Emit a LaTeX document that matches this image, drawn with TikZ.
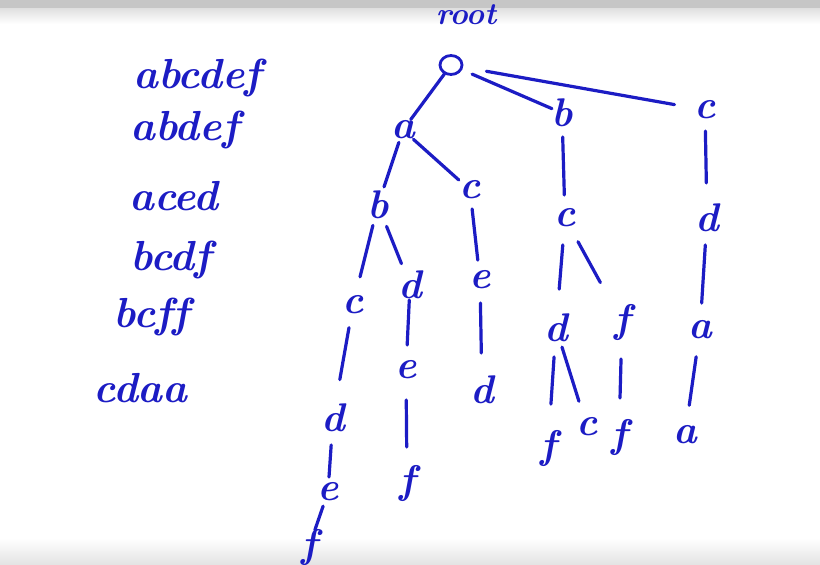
\documentclass[tikz,border=0pt]{standalone}
\usepackage{fontspec}
\usetikzlibrary{shapes.geometric}
\definecolor{ink}{RGB}{28,28,196}
\begin{document}
\begin{tikzpicture}[x=1pt,y=-1pt,
  letter/.style={text=ink, font=\fontsize{40}{42}\selectfont\bfseries\itshape, inner sep=0pt, anchor=center},
  word/.style={text=ink, font=\fontsize{42}{44}\selectfont\bfseries\itshape, inner sep=0pt, anchor=base west},
  edge/.style={draw=ink, line width=3.2pt, line cap=round},
]
\useasboundingbox (0,0) rectangle (820,565);
\fill[white] (0,0) rectangle (820,565);
\fill[gray!45] (0,0) rectangle (820,8);
\shade[top color=gray!25, bottom color=white] (0,8) rectangle (820,24);
\shade[top color=white, bottom color=gray!22] (0,538) rectangle (820,565);

% word list
\node[word] (w1) at (133,88) {abcdef};
\node[word] (w2) at (130,140) {abdef};
\node[word] (w3) at (129,210) {aced};
\node[word] (w4) at (130,270) {bcdf};
\node[word] (w5) at (113,327) {bcf\kern0.5pt f};
\node[word] (w6) at (93,402) {cdaa};

% trie
\node[letter, font=\fontsize{31}{33}\selectfont\bfseries\itshape] (rootlabel) at (466,15) {root};
\node[draw=ink, line width=2.8pt, ellipse, minimum width=22pt, minimum height=19pt, inner sep=0pt] (root) at (451,65) {};
\node[letter] (a) at (403,130) {a};
\node[letter] (b) at (562,113) {b};
\node[letter] (c) at (705,110) {c};
\node[letter] (ab) at (378,205) {b};
\node[letter] (ac) at (470,190) {c};
\node[letter] (bc) at (565,218) {c};
\node[letter] (cd) at (707,218) {d};
\node[letter] (abc) at (353,305) {c};
\node[letter] (abd) at (410,285) {d};
\node[letter] (ace) at (480,280) {e};
\node[letter] (bcd) at (556,328) {d};
\node[letter] (bcf) at (622,322) {f};
\node[letter] (cda) at (700,330) {a};
\node[letter] (abcd) at (333,418) {d};
\node[letter] (abde) at (406,370) {e};
\node[letter] (aced) at (482,390) {d};
\node[letter] (bcdf) at (548,448) {f};
\node[letter] (bcdc) at (587,427) {c};
\node[letter] (bcff) at (619,437) {f};
\node[letter] (cdaa) at (685,435) {a};
\node[letter] (abcde) at (328,492) {e};
\node[letter] (abdef) at (407,483) {f};
\node[letter] (abcdef) at (309,547) {f};

\draw[edge, shorten <=11pt, shorten >=13pt] (root.center) -- (a.center);
\draw[edge, shorten <=23pt, shorten >=11pt] (root.center) -- (b.center);
\draw[edge, shorten <=36pt, shorten >=31pt] (root.center) -- (c.center);
\draw[edge, shorten <=13pt, shorten >=19pt] (a.center) -- (ab.center);
\draw[edge, shorten <=14pt, shorten >=15pt] (a.center) -- (ac.center);
\draw[edge, shorten <=24pt, shorten >=23pt] (b.center) -- (bc.center);
\draw[edge, shorten <=21pt, shorten >=35pt] (c.center) -- (cd.center);
\draw[edge, shorten <=21pt, shorten >=29pt] (ab.center) -- (abc.center);
\draw[edge, shorten <=23pt, shorten >=23pt] (ab.center) -- (abd.center);
\draw[edge, shorten <=19pt, shorten >=20pt] (ac.center) -- (ace.center);
\draw[edge, shorten <=27pt, shorten >=39pt] (bc.center) -- (bcd.center);
\draw[edge, shorten <=27pt, shorten >=45pt] (bc.center) -- (bcf.center);
\draw[edge, shorten <=27pt, shorten >=27pt] (cd.center) -- (cda.center);
\draw[edge, shorten <=23pt, shorten >=39pt] (abc.center) -- (abcd.center);
\draw[edge, shorten <=15pt, shorten >=25pt] (abd.center) -- (abde.center);
\draw[edge, shorten <=23pt, shorten >=37pt] (ace.center) -- (aced.center);
\draw[edge, shorten <=29pt, shorten >=44pt] (bcd.center) -- (bcdf.center);
\draw[edge, shorten <=20pt, shorten >=27pt] (bcd.center) -- (bcdc.center);
\draw[edge, shorten <=37pt, shorten >=39pt] (bcf.center) -- (bcff.center);
\draw[edge, shorten <=27pt, shorten >=30pt] (cda.center) -- (cdaa.center);
\draw[edge, shorten <=27pt, shorten >=15pt] (abcd.center) -- (abcde.center);
\draw[edge, shorten <=30pt, shorten >=36pt] (abde.center) -- (abdef.center);
\draw[edge, shorten <=15pt, shorten >=18pt] (abcde.center) -- (abcdef.center);
\end{tikzpicture}
\end{document}
